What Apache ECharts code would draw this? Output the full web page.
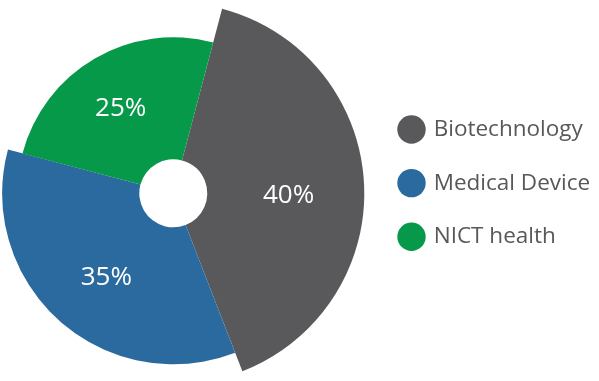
<!DOCTYPE html>
<html>
<head>
<meta charset="utf-8">
<script src="https://cdn.jsdelivr.net/npm/echarts@6/dist/echarts.min.js"></script>
<style>
html,body{margin:0;padding:0;background:#fff;}
#chart{width:599px;height:381px;}
</style>
</head>
<body>
<div id="chart"></div>
<script>
const categories = ['Biotechnology', 'Medical Device', 'NICT health'];
const values = [40, 35, 25];

const colors = ['#59595b', '#2a6a9e', '#07994a'];
const outerRadii = [191, 171, 156];
const innerRadius = 34;
const center = [173.3, 193.3];
// label nudges: down-shift via an empty first line (lineHeight = 2*shift), sideways via spaces
const labelNudge = [
  {lh: 18, pre: '', post: ''},
  {lh: 12, pre: ' ', post: ''},
  {lh: 0, pre: '', post: ' '}
];

const chart = echarts.init(document.getElementById('chart'), null, {renderer: 'canvas'});

const series = categories.map(function (cat, si) {
  return {
    type: 'pie',
    radius: [innerRadius, outerRadii[si]],
    center: center,
    startAngle: 75.2,
    clockwise: true,
    silent: true,
    avoidLabelOverlap: false,
    labelLine: {show: false},
    emphasis: {disabled: true},
    data: categories.map(function (name, i) {
      const on = i === si;
      const n = labelNudge[i];
      const lbl = {
        show: on,
        position: 'inside',
        formatter: (n.lh ? '\n' : '') + n.pre + values[i] + '%' + n.post,
        color: '#ffffff',
        fontFamily: 'Open Sans',
        fontSize: 26
      };
      if (n.lh) lbl.lineHeight = n.lh;
      return {
        name: name,
        value: values[i],
        itemStyle: {color: on ? colors[i] : 'rgba(0,0,0,0)', borderWidth: 0},
        label: lbl
      };
    })
  };
});

chart.setOption({
  animation: false,
  backgroundColor: '#ffffff',
  legend: {
    orient: 'vertical',
    left: 397.3,
    top: 115.3,
    padding: 0,
    icon: 'circle',
    itemWidth: 28.4,
    itemHeight: 28.4,
    itemGap: 25.2,
    selectedMode: false,
    textStyle: {
      color: '#58585a',
      fontFamily: 'Open Sans',
      fontSize: 22.5,
      padding: [0, 0, 0, 3]
    },
    data: categories.map(function (name, i) {
      return {name: name, itemStyle: {color: colors[i]}};
    })
  },
  series: series
});
</script>
</body>
</html>
